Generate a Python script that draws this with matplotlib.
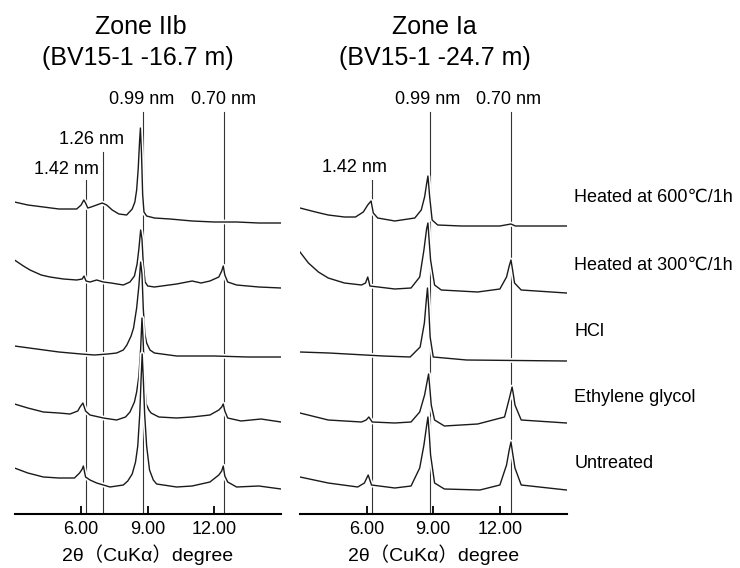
import numpy as np
import matplotlib
matplotlib.use("Agg")
import matplotlib.pyplot as plt
import matplotlib.patheffects as pe

plt.rcParams['font.family'] = ['Liberation Sans', 'DejaVu Sans', 'Noto Sans CJK JP']

# ---- stacked XRD patterns, 2theta (deg) vs offset intensity ----
# Zone IIb (BV15-1 -16.7 m)
iib_600_x = [3.0, 3.6, 4.3, 5.0, 5.8, 6.0, 6.12, 6.2, 6.3, 6.45, 6.7, 6.95, 7.15, 7.4, 7.7, 8.05, 8.3,
             8.42, 8.5, 8.57, 8.63, 8.67, 8.72, 8.77, 8.83, 8.95, 9.3, 10.0, 11.0, 12.0, 12.45, 13.0, 14.0, 15.0]
iib_600_y = [312, 309, 307, 305, 305, 309, 314, 311, 306, 307, 309, 311, 309, 304, 300, 299, 305,
             312, 324, 345, 372, 386, 360, 320, 302, 298, 296, 295, 293, 292, 292, 292, 291, 291]

iib_300_x = [3.0, 3.4, 3.7, 4.2, 4.6, 5.2, 5.8, 6.05, 6.13, 6.22, 6.4, 6.7, 7.0, 7.35, 7.9, 8.2, 8.4,
             8.52, 8.6, 8.68, 8.74, 8.8, 8.88, 9.0, 9.3, 10.3, 11.0, 11.4, 11.8, 12.2, 12.33, 12.4,
             12.47, 12.6, 13.0, 14.0, 15.0]
iib_300_y = [254, 248, 244, 239, 237, 235, 234, 235, 238, 233, 232, 234, 232, 231, 229, 232, 238,
             250, 265, 284, 275, 250, 232, 228, 227, 230, 233, 231, 233, 237, 243, 248,
             239, 232, 229, 227, 226]

iib_hcl_x = [3.0, 4.0, 5.0, 6.0, 6.6, 7.2, 7.6, 7.9, 8.06, 8.25, 8.36, 8.5, 8.6, 8.68, 8.74, 8.8,
             8.87, 8.95, 9.1, 9.3, 10.3, 12.0, 13.5, 15.0]
iib_hcl_y = [168, 165, 162, 160, 159, 160, 161, 164, 169, 178, 186, 206, 228, 252, 240, 205,
             180, 171, 164, 161, 158, 158, 157, 157]

iib_eg_x = [3.0, 3.6, 4.3, 5.0, 5.5, 5.85, 5.95, 6.08, 6.2, 6.4, 7.0, 7.6, 8.0, 8.2, 8.4, 8.5, 8.6,
            8.68, 8.74, 8.8, 8.86, 8.93, 9.05, 9.15, 9.5, 10.3, 11.0, 11.8, 12.2, 12.33, 12.4,
            12.47, 12.6, 13.2, 14.1, 15.0]
iib_eg_y = [110, 106, 102, 101, 100, 103, 107, 111, 103, 99, 96, 94, 97, 102, 112, 122, 138,
            165, 196, 170, 130, 110, 104, 101, 97, 96, 97, 99, 104, 107, 110,
            103, 96, 93, 95, 92]

iib_un_x = [3.0, 3.6, 4.3, 5.0, 5.7, 5.93, 6.05, 6.1, 6.2, 6.4, 6.7, 7.3, 7.9, 8.1, 8.3, 8.45, 8.55,
            8.64, 8.7, 8.75, 8.8, 8.86, 8.95, 9.08, 9.25, 9.4, 10.3, 11.0, 11.8, 12.2, 12.33, 12.4,
            12.47, 12.6, 13.0, 14.0, 15.0]
iib_un_y = [46, 41, 37, 36, 36, 41, 45, 48, 37, 34, 31, 27, 29, 33, 40, 52, 68,
            100, 135, 160, 135, 100, 68, 44, 34, 30, 27, 28, 32, 39, 43, 48,
            38, 32, 27, 28, 25]

# Zone Ia (BV15-1 -24.7 m)
ia_600_x = [3.0, 3.7, 4.27, 5.0, 5.5, 5.85, 6.05, 6.2, 6.3, 6.5, 7.27, 8.17, 8.46, 8.61, 8.7, 8.76,
            8.84, 8.95, 9.2, 10.26, 12.0, 12.5, 12.7, 15.0]
ia_600_y = [306, 302, 299, 297, 297, 302, 309, 313, 301, 296, 293, 296, 304, 317, 330, 338,
            317, 294, 289, 288, 288, 290, 288, 288]

ia_300_x = [3.0, 3.38, 3.83, 4.27, 5.0, 5.77, 5.95, 6.05, 6.15, 7.27, 8.0, 8.39, 8.58, 8.7, 8.76,
            8.82, 8.88, 9.06, 9.36, 11.0, 12.0, 12.3, 12.42, 12.5, 12.58, 12.66, 12.96, 15.0]
ia_300_y = [262, 251, 242, 236, 231, 229, 231, 237, 228, 225, 226, 237, 264, 285, 291,
            272, 254, 229, 224, 222, 225, 237, 248, 254, 243, 231, 224, 221]

ia_hcl_x = [3.0, 4.3, 6.75, 7.96, 8.41, 8.6, 8.68, 8.74, 8.8, 8.86, 9.0, 10.5, 15.0]
ia_hcl_y = [162, 161, 158, 157, 167, 191, 212, 226, 205, 177, 157, 154, 153]

ia_eg_x = [3.0, 4.27, 5.77, 5.98, 6.1, 6.25, 7.27, 8.0, 8.39, 8.61, 8.72, 8.79, 8.85, 8.91, 9.06,
           9.5, 11.0, 12.21, 12.43, 12.55, 12.62, 12.68, 12.96, 15.0]
ia_eg_y = [101, 94, 92, 94, 97, 92, 91, 92, 102, 119, 132, 140, 125, 109, 94,
           88, 90, 97, 116, 127, 118, 109, 94, 91]

ia_un_x = [3.0, 4.27, 5.6, 5.9, 6.07, 6.22, 7.27, 8.0, 8.39, 8.58, 8.7, 8.76, 8.82, 8.88, 9.06,
           9.5, 11.1, 12.0, 12.3, 12.42, 12.5, 12.58, 12.68, 12.96, 15.0]
ia_un_y = [37, 31, 27, 31, 39, 29, 26, 28, 46, 69, 88, 97, 80, 59, 31,
           25, 24, 29, 49, 64, 72, 60, 46, 29, 24]

# d-spacing reference lines
iib_lines_x = [6.22, 7.0, 8.78, 12.45]
iib_lines_top = [334, 362, 402, 402]
iib_lines_lab = ["1.42 nm", "1.26 nm", "0.99 nm", "0.70 nm"]
ia_lines_x = [6.22, 8.85, 12.5]
ia_lines_top = [334, 402, 402]
ia_lines_lab = ["1.42 nm", "0.99 nm", "0.70 nm"]

treatments = ["Heated at 600℃/1h", "Heated at 300℃/1h", "HCl", "Ethylene glycol", "Untreated"]
tick_pos = [6, 9, 12]
tick_lab = ["6.00", "9.00", "12.00"]

W, H = 740, 568
fig = plt.figure(figsize=(W / 100, H / 100), dpi=100)


def px_axes(x0, x1, ytop, ybot):
    return fig.add_axes([x0 / W, 1 - ybot / H, (x1 - x0) / W, (ybot - ytop) / H])


def draw_panel(ax, traces, lx, ltop, llab, lab_pos):
    ax.set_xlim(3, 15)
    ax.set_ylim(0, 420)
    for x, top in zip(lx, ltop):
        ax.plot([x, x], [0, top], color="#333333", lw=0.8, zorder=1)
    for tx, ty in traces:
        ax.plot(tx, ty, color="#1a1a1a", lw=1.0, zorder=3,
                path_effects=[pe.Stroke(linewidth=3.4, foreground="white"), pe.Normal()])
    for lab, (px, py) in zip(llab, lab_pos):
        ax.text(px, py, lab, ha="center", va="center", fontsize=13)
    for s in ["left", "right", "top"]:
        ax.spines[s].set_visible(False)
    ax.spines["bottom"].set_linewidth(1.5)
    ax.set_yticks([])
    ax.set_xticks(tick_pos)
    ax.set_xticklabels(tick_lab, fontsize=13)
    ax.tick_params(axis="x", direction="in", length=6, width=1.3, pad=5)
    ax.text(9.0, -41, "2θ（CuKα）degree", ha="center", va="center", fontsize=14,
            family=['Liberation Sans', 'Noto Sans CJK JP'])


axL = px_axes(14.5, 281, 94, 514)
axR = px_axes(300, 566.5, 94, 514)

draw_panel(axL,
           [(iib_600_x, iib_600_y), (iib_300_x, iib_300_y), (iib_hcl_x, iib_hcl_y),
            (iib_eg_x, iib_eg_y), (iib_un_x, iib_un_y)],
           iib_lines_x, iib_lines_top, iib_lines_lab,
           [(5.36, 344), (6.48, 374), (8.73, 415), (12.41, 415)])
draw_panel(axR,
           [(ia_600_x, ia_600_y), (ia_300_x, ia_300_y), (ia_hcl_x, ia_hcl_y),
            (ia_eg_x, ia_eg_y), (ia_un_x, ia_un_y)],
           ia_lines_x, ia_lines_top, ia_lines_lab,
           [(5.47, 346), (8.75, 415), (12.38, 415)])

# treatment labels to the right of Zone Ia
for lab, yy in zip(treatments, [317, 249, 182, 116, 51]):
    axR.text(15.35, yy, lab, ha="left", va="center", fontsize=13, clip_on=False)

fig.text(141 / W, 1 - 27 / H, "Zone IIb", ha="center", va="center", fontsize=18)
fig.text(138 / W, 1 - 58 / H, "(BV15-1 -16.7 m)", ha="center", va="center", fontsize=18)
fig.text(434 / W, 1 - 27 / H, "Zone Ia", ha="center", va="center", fontsize=18)
fig.text(435 / W, 1 - 58 / H, "(BV15-1 -24.7 m)", ha="center", va="center", fontsize=18)

fig.savefig("out.png", dpi=100)
